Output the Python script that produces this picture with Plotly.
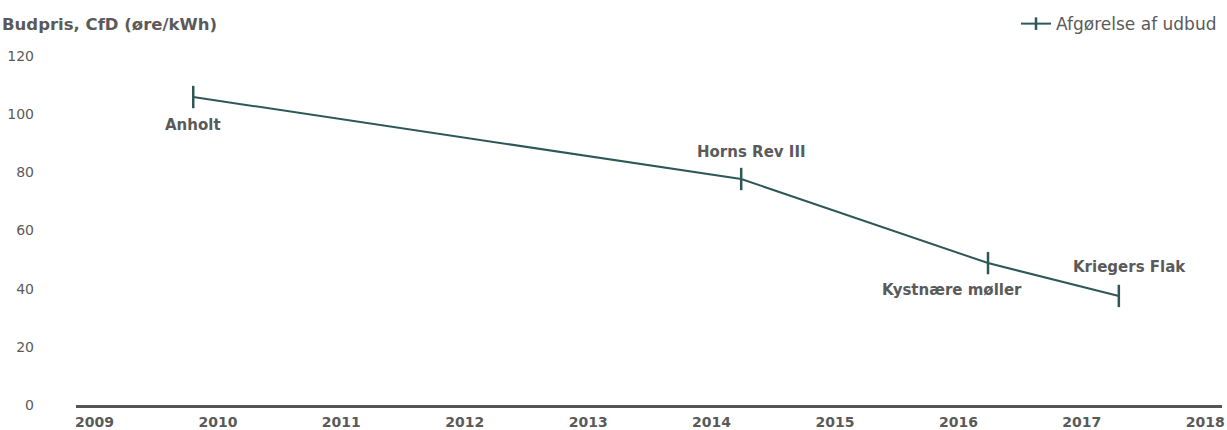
import plotly.graph_objects as go

# Data
years = [2009.80, 2014.24, 2016.24, 2017.30]
prices = [105.9, 77.7, 48.8, 37.5]
names = ["Anholt", "Horns Rev III", "Kystnære møller", "Kriegers Flak"]
series_name = "Afgørelse af udbud"
x_ticks = list(range(2009, 2019))
y_ticks = [0, 20, 40, 60, 80, 100, 120]

LINE = "#2e5858"
TXT = "#5a5a5a"
FONT = "DejaVu Sans"

fig = go.Figure()
fig.add_trace(go.Scatter(
    x=years, y=prices, mode="lines+markers", name=series_name, showlegend=False,
    legendgroup="a",
    line=dict(color=LINE, width=2),
    marker=dict(symbol="line-ns", size=16, line=dict(color=LINE, width=2.5), color=LINE),
))
# legend entry (smaller tick in the legend, like the reference)
fig.add_trace(go.Scatter(
    x=[None], y=[None], mode="lines+markers", name=series_name, legendgroup="a",
    line=dict(color=LINE, width=2),
    marker=dict(symbol="line-ns", size=9, line=dict(color=LINE, width=2.5), color=LINE),
))

# label placement offsets (pixels)
offsets = [(0, -28), (10, 27), (-36, -27), (11, 29)]
for x, y, t, (dx, dy) in zip(years, prices, names, offsets):
    fig.add_annotation(x=x, y=y, text="<b>%s</b>" % t, showarrow=False,
                       xshift=dx, yshift=dy, font=dict(size=15, color=TXT, family=FONT))

fig.add_annotation(xref="paper", yref="paper", x=0, y=1, xanchor="left", yanchor="middle",
                   xshift=-76, yshift=32, text="<b>Budpris, CfD (øre/kWh)</b>", showarrow=False,
                   font=dict(size=16.5, color=TXT, family=FONT))

fig.update_layout(
    width=1227, height=430,
    margin=dict(l=76, r=5, t=56, b=25, autoexpand=False),
    plot_bgcolor="white", paper_bgcolor="white",
    showlegend=True,
    legend=dict(xref="paper", x=1, xanchor="right", yref="container", y=0.944, yanchor="middle",
                orientation="h", font=dict(size=17, color=TXT, family=FONT),
                bgcolor="rgba(0,0,0,0)"),
    font=dict(family=FONT, color=TXT),
)
fig.update_xaxes(range=[2008.85, 2018.136], tickvals=x_ticks, ticktext=[f"<b>{v}</b>" for v in x_ticks],
                 showgrid=False, zeroline=False, showline=True, linecolor="#555555", linewidth=3,
                 tickfont=dict(size=14, color=TXT, family=FONT), ticks="", ticklabelstandoff=2,
                 automargin=False)
fig.update_yaxes(range=[0, 120], tickvals=y_ticks, showgrid=False, zeroline=False, showline=False,
                 tickfont=dict(size=14, color=TXT, family=FONT), ticks="", ticklabelstandoff=41,
                 automargin=False)

fig.write_html("out.html", config={"displayModeBar": False},
               post_script="document.body.style.margin='0';document.body.style.overflow='hidden';")
